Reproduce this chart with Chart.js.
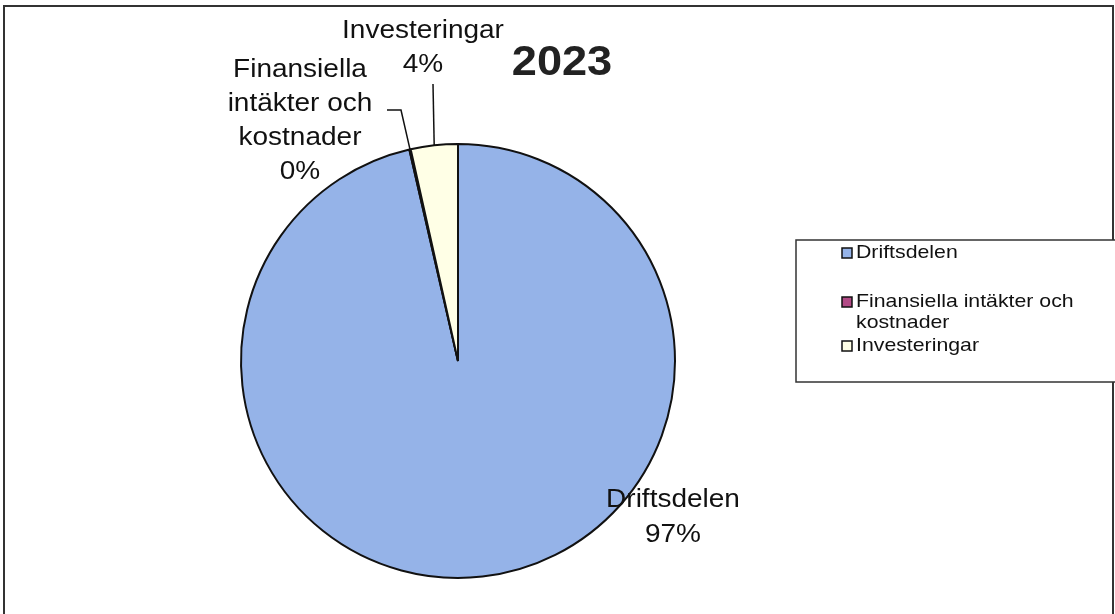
<!DOCTYPE html>
<html>
<head>
<meta charset="utf-8">
<script src="https://cdn.jsdelivr.net/npm/chart.js@4.4.0/dist/chart.umd.min.js"></script>
<style>
  html, body { margin: 0; padding: 0; background: #fff; }
  #wrap { width: 1115px; height: 614px; position: relative; }
</style>
</head>
<body>
<div id="wrap"><canvas id="myChart" width="1115" height="614"></canvas></div>
<script>
// data
var categories = ['Driftsdelen', 'Finansiella intäkter och kostnader', 'Investeringar'];
var values = [96.4, 0.1, 3.5];
var pctLabels = ['97%', '0%', '4%'];
var sliceColors = ['#95B3E8', '#B24A86', '#FFFFE6'];
var chartTitle = '2023';

var FONT = '"Liberation Sans", Arial, sans-serif';
var SX = 1.12; // the scan is a bit stretched sideways

function stretchedText(ctx, text, x, y, font, sx, align, baseline) {
    ctx.save();
    ctx.font = font;
    ctx.textAlign = align || 'center';
    ctx.textBaseline = baseline || 'alphabetic';
    ctx.translate(x, y);
    ctx.scale(sx, 1);
    ctx.fillText(text, 0, 0);
    ctx.restore();
}

// where the slice labels sit (text lines + baselines), and the leader lines
var labelPlaces = [
    { x: 673, lines: ['Driftsdelen', pctLabels[0]], y: [507, 542], leader: null },
    { x: 300, lines: ['Finansiella', 'intäkter och', 'kostnader', pctLabels[1]], y: [77, 111, 145, 179],
      leader: [[387, 110], [401, 110]] },
    { x: 423, lines: ['Investeringar', pctLabels[2]], y: [38, 72], leader: [[433, 84]] }
];

var decorations = {
    id: 'decorations',
    afterDraw: function (chart) {
        var ctx = chart.ctx;
        var arcs = chart.getDatasetMeta(0).data;

        // outer frame
        ctx.save();
        ctx.strokeStyle = '#333';
        ctx.lineWidth = 2;
        ctx.strokeRect(4, 6, 1109, 620);
        ctx.restore();

        // title
        ctx.fillStyle = '#222';
        stretchedText(ctx, chartTitle, 562, 75, 'bold 43px ' + FONT, 1.05);

        // slice labels
        ctx.fillStyle = '#111';
        labelPlaces.forEach(function (p, i) {
            p.lines.forEach(function (t, j) {
                stretchedText(ctx, t, p.x, p.y[j], '25px ' + FONT, SX);
            });
            if (p.leader) {
                var a = arcs[i];
                var mid = (a.startAngle + a.endAngle) / 2;
                var ex = a.x + Math.cos(mid) * a.outerRadius;
                var ey = a.y + Math.sin(mid) * a.outerRadius;
                ctx.save();
                ctx.strokeStyle = '#111';
                ctx.lineWidth = 1.5;
                ctx.beginPath();
                ctx.moveTo(p.leader[0][0], p.leader[0][1]);
                for (var k = 1; k < p.leader.length; k++) ctx.lineTo(p.leader[k][0], p.leader[k][1]);
                ctx.lineTo(ex, ey);
                ctx.stroke();
                ctx.restore();
            }
        });

        // legend box
        ctx.save();
        ctx.fillStyle = '#fff';
        ctx.strokeStyle = '#333';
        ctx.lineWidth = 1.5;
        ctx.fillRect(796, 240, 330, 142);
        ctx.strokeRect(796, 240, 330, 142);
        ctx.restore();

        var legendRows = [
            { lines: [categories[0]], y: [253] },
            { lines: ['Finansiella intäkter och', 'kostnader'], y: [302, 323] },
            { lines: [categories[2]], y: [346] }
        ];
        legendRows.forEach(function (r, i) {
            ctx.save();
            ctx.fillStyle = sliceColors[i];
            ctx.strokeStyle = '#111';
            ctx.lineWidth = 1.5;
            ctx.fillRect(842, r.y[0] - 5, 10, 10);
            ctx.strokeRect(842, r.y[0] - 5, 10, 10);
            ctx.restore();
            ctx.fillStyle = '#111';
            r.lines.forEach(function (t, j) {
                stretchedText(ctx, t, 856, r.y[j], '19px ' + FONT, SX, 'left', 'middle');
            });
        });
    }
};

var ctx = document.getElementById('myChart');
var myChart = new Chart(ctx, {
    type: 'pie',
    data: {
        labels: categories,
        datasets: [{
            data: values,
            backgroundColor: sliceColors,
            borderColor: '#111',
            borderWidth: 2
        }]
    },
    options: {
        responsive: false,
        animation: false,
        layout: {
            padding: { left: 240, right: 439, top: 143, bottom: 35 }
        },
        plugins: {
            legend: { display: false },
            title: { display: false },
            tooltip: { enabled: false }
        }
    },
    plugins: [decorations]
});
</script>
</body>
</html>
